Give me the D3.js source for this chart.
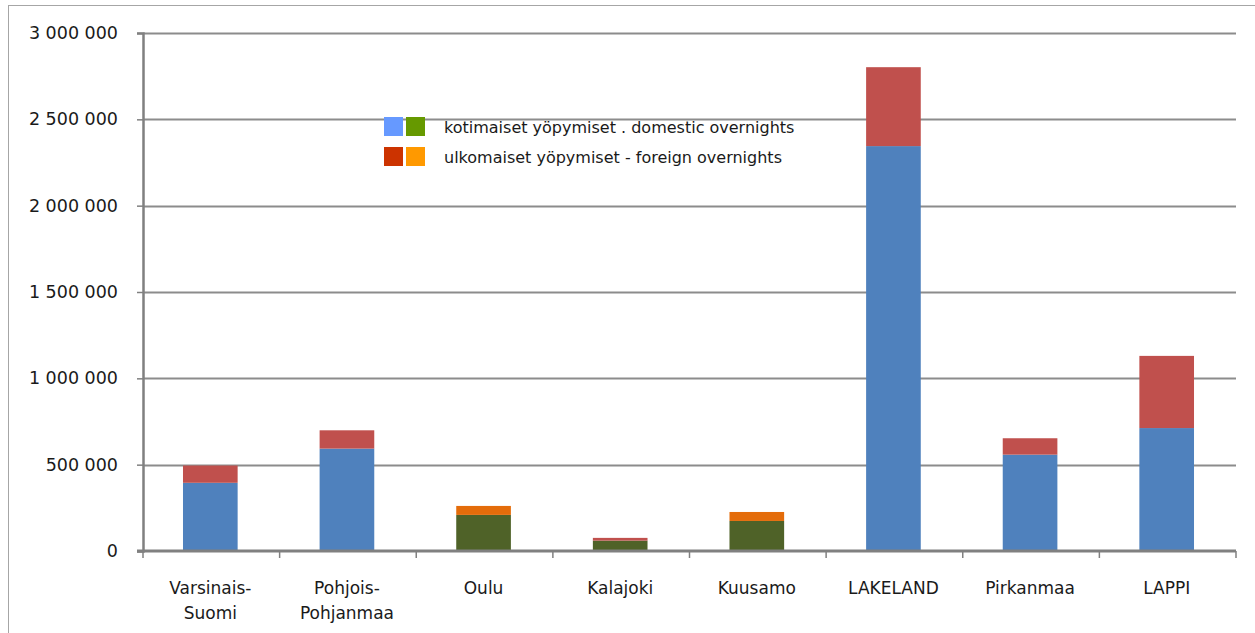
<!DOCTYPE html>
<html>
<head>
<meta charset="utf-8">
<script src="https://cdn.jsdelivr.net/npm/d3@7"></script>
<style>
  body { margin: 0; background: #fff; }
  text { font-family: "DejaVu Sans", Verdana, sans-serif; fill: #1a1a1a; }
</style>
</head>
<body>
<svg id="chart" width="1255" height="633"></svg>
<script>
// data
const categories = ['Varsinais-\nSuomi', 'Pohjois-\nPohjanmaa', 'Oulu', 'Kalajoki', 'Kuusamo', 'LAKELAND', 'Pirkanmaa', 'LAPPI'];
const domestic = [395000, 593000, 209000, 60000, 174000, 2345000, 558000, 712000];
const foreign = [100000, 106000, 52000, 16000, 52000, 457000, 95000, 418000];
const yTicks = [0, 500000, 1000000, 1500000, 2000000, 2500000, 3000000];
const legendLabels = ['kotimaiset yöpymiset . domestic overnights', 'ulkomaiset yöpymiset - foreign overnights'];

// colours per category (domestic, foreign)
const colorMap = {
  'Oulu': ['#4f6228', '#e46c0a'],
  'Kalajoki': ['#4f6228', '#c0504d'],
  'Kuusamo': ['#4f6228', '#e46c0a'],
};
const defaultColors = ['#4f81bd', '#c0504d'];
const legendSwatches = [['#6699ff', '#669900'], ['#cc3300', '#ff9900']];

const svg = d3.select('#chart');
const margin = { left: 143, right: 19, top: 33, bottom: 82 };
const W = 1255, H = 633;

// outer frame
svg.append('rect')
  .attr('x', 8.5).attr('y', 5.5)
  .attr('width', W + 10).attr('height', H + 10)
  .attr('fill', 'none').attr('stroke', '#a6a6a6').attr('stroke-width', 1);

const x = d3.scaleBand()
  .domain(categories)
  .range([margin.left, W - margin.right])
  .paddingInner(0.6)
  .paddingOuter(0.3);

const y = d3.scaleLinear()
  .domain([0, 3000000])
  .range([H - margin.bottom, margin.top]);

const fmt = (v) => d3.format(',')(v).replace(/,/g, ' ');

// gridlines
svg.append('g')
  .selectAll('line')
  .data(yTicks.filter((d) => d > 0))
  .join('line')
  .attr('x1', margin.left).attr('x2', W - margin.right)
  .attr('y1', (d) => Math.round(y(d)) + 0.5).attr('y2', (d) => Math.round(y(d)) + 0.5)
  .attr('stroke', '#8c8c8c').attr('stroke-width', 2);

// y axis
const yAxis = svg.append('g')
  .attr('transform', `translate(${margin.left},0)`)
  .call(d3.axisLeft(y).tickValues(yTicks).tickFormat(fmt).tickSize(6).tickPadding(19));
yAxis.select('.domain').attr('stroke', '#808080').attr('stroke-width', 2.5);
yAxis.selectAll('.tick line').attr('stroke', '#808080').attr('stroke-width', 1.5);
yAxis.selectAll('.tick text')
  .style('font-size', '17.5px')
  .style('font-family', '"DejaVu Sans", Verdana, sans-serif')
  .attr('fill', '#1a1a1a');

// bars
const rows = categories.map((c, i) => ({ c, dom: domestic[i], fgn: foreign[i] }));
const barG = svg.append('g');
barG.selectAll('.dom')
  .data(rows)
  .join('rect')
  .attr('class', 'dom')
  .attr('x', (d) => x(d.c) - 1)
  .attr('width', x.bandwidth())
  .attr('y', (d) => y(d.dom))
  .attr('height', (d) => y(0) - y(d.dom))
  .attr('fill', (d) => (colorMap[d.c] || defaultColors)[0]);
barG.selectAll('.fgn')
  .data(rows)
  .join('rect')
  .attr('class', 'fgn')
  .attr('x', (d) => x(d.c) - 1)
  .attr('width', x.bandwidth())
  .attr('y', (d) => y(d.dom + d.fgn))
  .attr('height', (d) => y(d.dom) - y(d.dom + d.fgn))
  .attr('fill', (d) => (colorMap[d.c] || defaultColors)[1]);

// x axis
const step = x.step();
const bounds = categories.map((c) => x(c) - (step - x.bandwidth()) / 2).concat([W - margin.right]);
const xAxisG = svg.append('g');
xAxisG.append('line')
  .attr('x1', margin.left - 6).attr('x2', W - margin.right)
  .attr('y1', y(0)).attr('y2', y(0))
  .attr('stroke', '#808080').attr('stroke-width', 3);
xAxisG.selectAll('.xtick')
  .data(bounds)
  .join('line')
  .attr('class', 'xtick')
  .attr('x1', (d) => d).attr('x2', (d) => d)
  .attr('y1', y(0)).attr('y2', y(0) + 7)
  .attr('stroke', '#808080').attr('stroke-width', 1.5);

xAxisG.selectAll('.xlabel')
  .data(categories)
  .join('text')
  .attr('class', 'xlabel')
  .attr('text-anchor', 'middle')
  .style('font-size', '17px')
  .attr('transform', (d) => `translate(${x(d) + x.bandwidth() / 2 - 1},${y(0) + 43})`)
  .each(function (d) {
    d3.select(this)
      .selectAll('tspan')
      .data(d.split('\n'))
      .join('tspan')
      .attr('x', 0)
      .attr('dy', (t, i) => (i === 0 ? 0 : 25))
      .text((t) => t);
  });

// legend
const legend = svg.append('g').attr('transform', 'translate(384,117)');
const items = legend.selectAll('.legend-item')
  .data(legendLabels)
  .join('g')
  .attr('class', 'legend-item')
  .attr('transform', (d, i) => `translate(0,${i * 30})`);
items.each(function (d, i) {
  const g = d3.select(this);
  g.selectAll('rect')
    .data(legendSwatches[i])
    .join('rect')
    .attr('x', (c, j) => j * 22)
    .attr('width', 19).attr('height', 19)
    .attr('fill', (c) => c);
  g.append('text')
    .attr('x', 60).attr('y', 16)
    .style('font-size', '16px')
    .text(d);
});
</script>
</body>
</html>
